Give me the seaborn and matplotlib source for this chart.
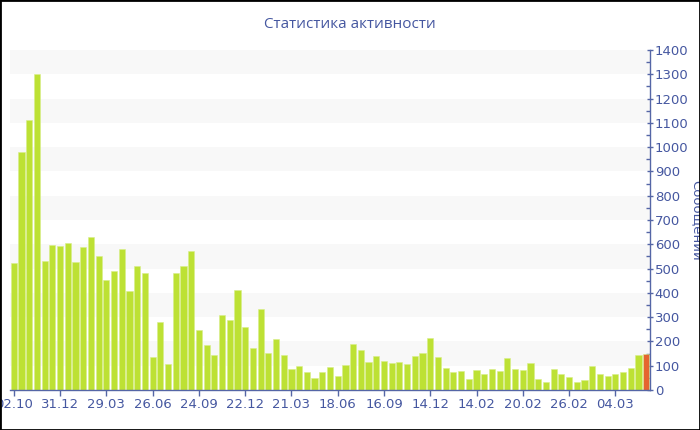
import numpy as np
import pandas as pd
import matplotlib
matplotlib.use("Agg")
import matplotlib.pyplot as plt
from matplotlib.patches import Rectangle
from matplotlib.ticker import MultipleLocator
import seaborn as sns

values = [525, 980, 1110, 1300, 532, 598, 593, 604, 528, 589,
          630, 553, 453, 491, 581, 409, 509, 480, 135, 279,
          107, 480, 511, 574, 247, 185, 144, 310, 288, 412,
          259, 174, 333, 151, 211, 144, 86, 99, 74, 49,
          75, 96, 56, 103, 189, 163, 115, 139, 119, 111,
          117, 108, 141, 151, 215, 135, 91, 75, 80, 45,
          84, 66, 85, 78, 130, 85, 81, 110, 45, 32,
          86, 64, 54, 33, 42, 99, 66, 56, 66, 75,
          92, 145, 147]
tick_labels = ["02.10", "31.12", "29.03", "26.06", "24.09", "22.12", "21.03",
               "18.06", "16.09", "14.12", "14.02", "20.02", "26.02", "04.03"]
tick_step = 6
title = "Статистика активности"
ylabel = "Сообщений"

text_color = "#4557a0"
axis_color = "#5566a6"
green = "#bde134"
orange = "#e5652f"

df = pd.DataFrame({
    "pos": np.arange(len(values)),
    "val": values,
    "kind": ["past"] * (len(values) - 1) + ["current"],
})

sns.set_theme(style="white")
plt.rcParams["font.family"] = ["DejaVu Sans"]

fig = plt.figure(figsize=(7.0, 4.3), dpi=100)
ax = fig.add_axes([10 / 700, 40 / 430, 640 / 700, 340 / 430])

for lo in range(100, 1400, 200):
    ax.axhspan(lo, lo + 100, color="#f8f8f8", zorder=0, lw=0)

sns.barplot(data=df, x="pos", y="val", hue="kind",
            palette={"past": green, "current": orange},
            dodge=False, legend=False, width=0.8, ax=ax, saturation=1,
            edgecolor="#d8ee8a", linewidth=0.4, zorder=2)

ax.set_xlim(-0.5, len(values) - 0.5)
ax.set_ylim(0, 1400)

ax.set_xticks(np.arange(0, len(values), tick_step)[:len(tick_labels)])
ax.set_xticklabels(tick_labels)
ax.set_xlabel("")

ax.yaxis.tick_right()
ax.yaxis.set_label_position("right")
ax.yaxis.set_major_locator(MultipleLocator(100))
ax.yaxis.set_minor_locator(MultipleLocator(50))
ax.set_ylabel(ylabel, rotation=-90, color=text_color, fontsize=9.5, labelpad=10)

ax.tick_params(axis="y", which="major", direction="inout", length=5, width=1,
               color=axis_color, labelcolor=text_color, labelsize=9.5, pad=1,
               right=True, left=False)
ax.tick_params(axis="y", which="minor", direction="in", length=3, width=1,
               color=axis_color, right=True, left=False)
ax.tick_params(axis="x", which="major", direction="out", length=4, width=1,
               color=axis_color, labelcolor=text_color, labelsize=9.5, pad=2,
               bottom=True)

for s in ["left", "top"]:
    ax.spines[s].set_visible(False)
for s in ["right", "bottom"]:
    ax.spines[s].set_color(axis_color)
    ax.spines[s].set_linewidth(1)

ax.set_facecolor("white")
ax.grid(False)

fig.text(0.5, 1 - 25 / 430, title, ha="center", va="center",
         color=text_color, fontsize=11, family=["Open Sans", "DejaVu Sans"])

fig.patches.append(Rectangle((0, 0), 1, 1, transform=fig.transFigure,
                             fill=False, edgecolor="black", linewidth=2,
                             zorder=10))

fig.savefig("out.png", dpi=100)
